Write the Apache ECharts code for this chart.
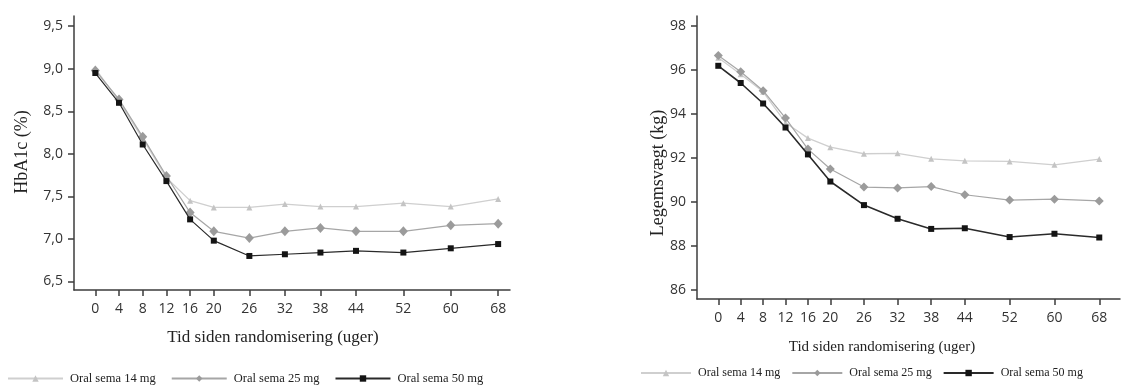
<!DOCTYPE html>
<html>
<head>
<meta charset="utf-8">
<script src="https://cdn.jsdelivr.net/npm/echarts@6/dist/echarts.min.js"></script>
<style>
html,body{margin:0;padding:0;background:#fff;}
#c{width:1136px;height:387px;}
</style>
</head>
<body>
<div id="c"></div>
<script>
// ---- data ----
const weeks = [0, 4, 8, 12, 16, 20, 26, 32, 38, 44, 52, 60, 68];
const seriesNames = ['Oral sema 14 mg', 'Oral sema 25 mg', 'Oral sema 50 mg'];

// HbA1c (%)
const hba1c14 = [9.00, 8.62, 8.18, 7.72, 7.45, 7.37, 7.37, 7.41, 7.38, 7.38, 7.42, 7.38, 7.47];
const hba1c25 = [8.98, 8.64, 8.20, 7.74, 7.31, 7.09, 7.01, 7.09, 7.13, 7.09, 7.09, 7.16, 7.18];
const hba1c50 = [8.95, 8.60, 8.11, 7.68, 7.23, 6.98, 6.80, 6.82, 6.84, 6.86, 6.84, 6.89, 6.94];

// Body weight (kg)
const weight14 = [96.55, 95.80, 95.00, 93.60, 92.90, 92.49, 92.19, 92.21, 91.96, 91.87, 91.84, 91.69, 91.95];
const weight25 = [96.65, 95.91, 95.05, 93.81, 92.40, 91.50, 90.68, 90.64, 90.70, 90.33, 90.09, 90.13, 90.05];
const weight50 = [96.18, 95.40, 94.47, 93.38, 92.16, 90.93, 89.86, 89.24, 88.78, 88.81, 88.41, 88.56, 88.39];

// tick labels
const hbTicks = [6.5, 7.0, 7.5, 8.0, 8.5, 9.0, 9.5];
const hbTickLabels = ['6,5', '7,0', '7,5', '8,0', '8,5', '9,0', '9,5'];
const wtTicks = [86, 88, 90, 92, 94, 96, 98];
const wtTickLabels = ['86', '88', '90', '92', '94', '96', '98'];

// texts
const leftYTitle = 'HbA1c (%)';
const rightYTitle = 'Legemsvægt (kg)';
const xTitle = 'Tid siden randomisering (uger)';

// ---- chart ----
const pair = (xs, ys) => xs.map((x, i) => [x, ys[i]]);
const chart = echarts.init(document.getElementById('c'), null, {renderer: 'canvas'});

const tickFont = {fontFamily: 'Open Sans', fontSize: 14, color: '#333'};
const axisLineStyle = {color: '#3c3c3c', width: 1.5};

function xAxisDef(gridIndex, min, max) {
  return {
    type: 'value', gridIndex, min, max,
    axisLine: {show: true, onZero: false, lineStyle: axisLineStyle},
    axisTick: {show: true, length: 6, customValues: weeks, lineStyle: axisLineStyle},
    axisLabel: Object.assign({customValues: weeks, margin: 12}, tickFont),
    splitLine: {show: false}
  };
}
function yAxisDef(gridIndex, min, max, ticks, labels) {
  return {
    type: 'value', gridIndex, min, max,
    axisLine: {show: true, onZero: false, lineStyle: axisLineStyle},
    axisTick: {show: true, length: 6, customValues: ticks, lineStyle: axisLineStyle},
    axisLabel: Object.assign({
      customValues: ticks, margin: 11,
      formatter: v => { const i = ticks.findIndex(t => Math.abs(t - v) < 1e-6); return i >= 0 ? labels[i] : ''; }
    }, tickFont),
    splitLine: {show: false}
  };
}

const styles = [
  {symbol: 'triangle', size: 6, color: '#c4c4c4', line: '#cfcfcf', width: 1.3},
  {symbol: 'diamond', size: [9, 10], color: '#9b9b9b', line: '#a6a6a6', width: 1.2},
  {symbol: 'rect', size: 6, color: '#141414', line: '#2a2a2a', width: 1.2}
];

function mkSeries(idx, data, gi, sizeOverride, widthOverride) {
  const s = styles[idx];
  return {
    type: 'line', name: seriesNames[idx], xAxisIndex: gi, yAxisIndex: gi,
    data: pair(weeks, data),
    symbol: s.symbol, symbolSize: sizeOverride || s.size, showAllSymbol: true,
    itemStyle: {color: s.color},
    lineStyle: {color: s.line, width: widthOverride || s.width},
    z: 2 + idx, animation: false
  };
}

const option = {
  animation: false,
  backgroundColor: '#ffffff',
  grid: [
    {left: 74, top: 16, width: 436, height: 274},
    {left: 697, top: 16, width: 423, height: 283}
  ],
  xAxis: [xAxisDef(0, -3.6, 70), xAxisDef(1, -3.8, 71.7)],
  yAxis: [
    yAxisDef(0, 6.4, 9.62, hbTicks, hbTickLabels),
    yAxisDef(1, 85.6, 98.44, wtTicks, wtTickLabels)
  ],
  legend: [
    {
      data: seriesNames, left: 7, top: 372, padding: 0, itemWidth: 55, itemHeight: 8, itemGap: 15,
      textStyle: {fontFamily: 'Liberation Serif', fontSize: 12.5, color: '#222', padding: [0, 0, 0, 2]},
      selectedMode: false
    },
    {
      data: seriesNames, left: 640, top: 367, padding: 0, itemWidth: 50, itemHeight: 8, itemGap: 11,
      textStyle: {fontFamily: 'Liberation Serif', fontSize: 12, color: '#222', padding: [0, 0, 0, 2]},
      selectedMode: false
    }
  ],
  graphic: [
    {type: 'text', x: 22, y: 152, rotation: Math.PI / 2,
     style: {text: leftYTitle, font: '18px "Liberation Serif"', fill: '#222', textAlign: 'center', textVerticalAlign: 'middle'}},
    {type: 'text', x: 273, y: 338,
     style: {text: xTitle, font: '17px "Liberation Serif"', fill: '#222', textAlign: 'center', textVerticalAlign: 'middle'}},
    {type: 'text', x: 658, y: 173, rotation: Math.PI / 2,
     style: {text: rightYTitle, font: '18px "Liberation Serif"', fill: '#222', textAlign: 'center', textVerticalAlign: 'middle'}},
    {type: 'text', x: 882, y: 347,
     style: {text: xTitle, font: '15px "Liberation Serif"', fill: '#222', textAlign: 'center', textVerticalAlign: 'middle'}}
  ],
  series: [
    mkSeries(0, hba1c14, 0),
    mkSeries(1, hba1c25, 0),
    mkSeries(2, hba1c50, 0),
    mkSeries(0, weight14, 1),
    mkSeries(1, weight25, 1, [9, 9]),
    mkSeries(2, weight50, 1, 6, 1.6)
  ]
};
chart.setOption(option);
</script>
</body>
</html>
